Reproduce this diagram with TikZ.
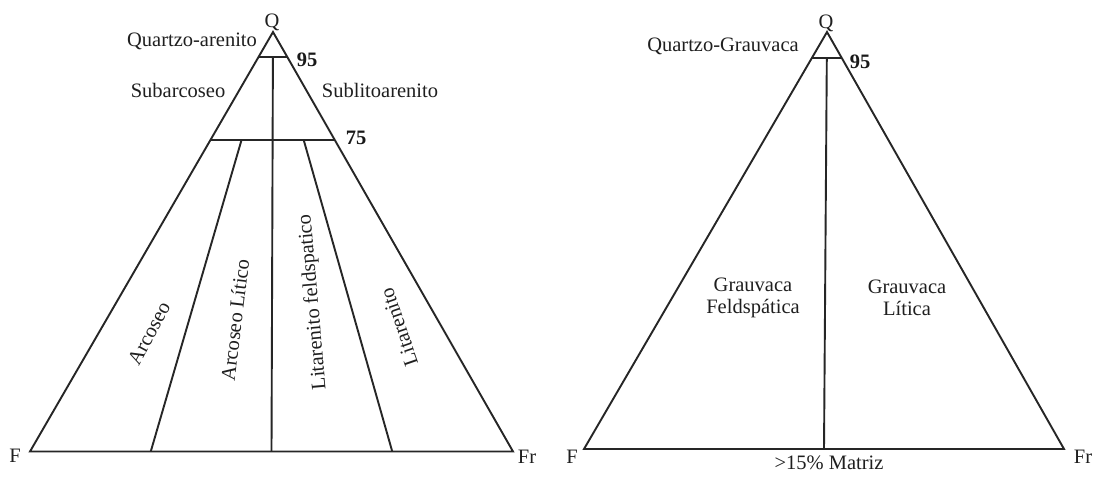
\documentclass[tikz,border=0pt]{standalone}
\usepackage{fontspec}
\setmainfont{Liberation Serif}
\usetikzlibrary{calc}
\begin{document}
\begin{tikzpicture}[x=1pt,y=-1pt,
  lbl/.style={font=\fontsize{20.5}{22.5}\selectfont, inner sep=0pt, text=black!88},
  num/.style={font=\fontsize{20.5}{22.5}\selectfont\bfseries, inner sep=0pt, text=black!90},
  edge/.style={draw=black!85, line width=1.9pt, line join=miter, line cap=butt}]
\useasboundingbox[fill=white] (0,0) rectangle (1094,477);

% ---------- left triangle ----------
\coordinate (Q1) at (273,32);
\coordinate (F1) at (30,451.5);
\coordinate (R1) at (513,451.5);
\draw[edge] (Q1) -- (F1) -- (R1) -- cycle;
\coordinate (a95L) at ($(Q1)!0.06!(F1)$);
\coordinate (a95R) at ($(Q1)!0.06!(R1)$);
\coordinate (a75L) at ($(Q1)!0.258!(F1)$);
\coordinate (a75R) at ($(Q1)!0.258!(R1)$);
\draw[edge] (a95L) -- (a95R);
\draw[edge] (a75L) -- (a75R);
\coordinate (b1) at ($(F1)!0.25!(R1)$);
\coordinate (b2) at ($(F1)!0.5!(R1)$);
\coordinate (b3) at ($(F1)!0.75!(R1)$);
\coordinate (m95) at ($(a95L)!0.5!(a95R)$);
\draw[edge] (m95) -- (b2);
\draw[edge] ($(Q1)!0.258!(b1)$) -- (b1);
\draw[edge] ($(Q1)!0.258!(b3)$) -- (b3);

\node[lbl] (q1) at (272,22) {Q};
\node[lbl] (f1) at (15,456) {F};
\node[lbl] (fr1) at (527,457) {Fr};
\node[lbl] (qa) at (192,41) {Quartzo-arenito};
\node[num] (n95a) at (307,60) {95};
\node[lbl] (sub1) at (178,90) {Subarcoseo};
\node[lbl] (sub2) at (380,90) {Sublitoarenito};
\node[num] (n75) at (356,138) {75};
\node[lbl, rotate=62] (arc) at (149,333) {Arcoseo};
\node[lbl, rotate=83] (arcl) at (235,320) {Arcoseo Lítico};
\node[lbl, rotate=95] (litf) at (313,302) {Litarenito feldspatico};
\node[lbl, rotate=109] (lit) at (399,327) {Litarenito};

% ---------- right triangle ----------
\coordinate (Q2) at (827,32);
\coordinate (F2) at (584,449);
\coordinate (R2) at (1064,449);
\draw[edge] (Q2) -- (F2) -- (R2) -- cycle;
\coordinate (c95L) at ($(Q2)!0.062!(F2)$);
\coordinate (c95R) at ($(Q2)!0.062!(R2)$);
\draw[edge] (c95L) -- (c95R);
\coordinate (m95b) at ($(c95L)!0.5!(c95R)$);
\coordinate (mb) at ($(F2)!0.5!(R2)$);
\draw[edge] (m95b) -- (mb);

\node[lbl] (q2) at (826,23) {Q};
\node[lbl] (f2) at (572,457) {F};
\node[lbl] (fr2) at (1083,457) {Fr};
\node[lbl] (qg) at (723,46) {Quartzo-Grauvaca};
\node[num] (n95b) at (860,62) {95};
\node[lbl, align=center] (gf) at (753,298) {Grauvaca\\Feldspática};
\node[lbl, align=center] (gl) at (907,298) {Grauvaca\\Lítica};
\node[lbl] (mat) at (829,463) {>15\% Matriz};
\end{tikzpicture}
\end{document}
